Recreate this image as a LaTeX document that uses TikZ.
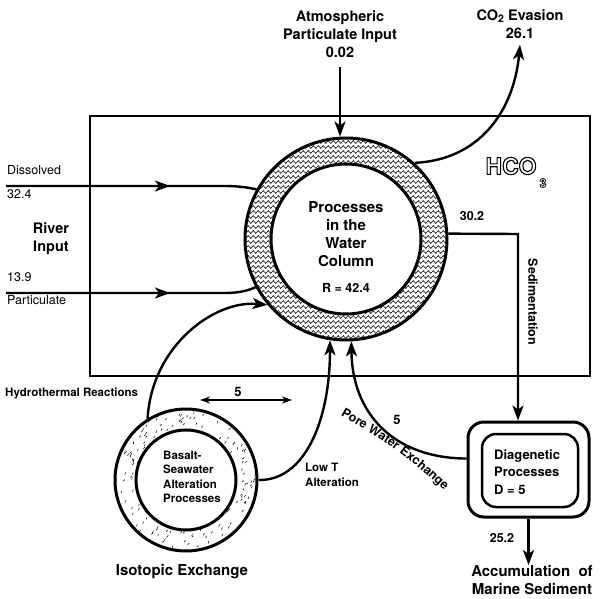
\documentclass[tikz,border=0pt]{standalone}
\usepackage{fontspec}
\setmainfont{TeX Gyre Heros}
\usetikzlibrary{arrows.meta,decorations.pathmorphing,decorations.markings,decorations.text}
% outlined (hollow) glyphs through the PDF text render mode
\newcommand\hollowglyphs[2][1.1]{\special{pdf:literal direct q 1 Tr #1 w}#2\special{pdf:literal direct 0 Tr Q}}

\begin{document}
\begin{tikzpicture}[x=1pt,y=-1pt,
  flow/.style={line width=2.4pt},
  bigtip/.style={-{Stealth[length=15pt,width=11pt,inset=4pt]}},
  midtip/.style={postaction={decorate},
    decoration={markings,mark=at position #1 with {\arrow{Stealth[length=15pt,width=11pt,inset=4pt]}}}},
  bigtxt/.style={font=\bfseries\fontsize{15}{18}\selectfont,align=center,inner sep=0pt},
  midtxt/.style={font=\bfseries\fontsize{12.5}{14.5}\selectfont,align=left,inner sep=0pt},
  smalltxt/.style={font=\fontsize{12.5}{14}\selectfont,inner sep=0pt},
  hco/.style={font=\bfseries\fontsize{23}{25}\selectfont,inner sep=0pt},
  hcosub/.style={font=\bfseries\fontsize{12.5}{14}\selectfont,inner sep=0pt},
  ring/.style={circle,draw,line width=3pt,inner sep=0pt},
]
\useasboundingbox (0,0) rectangle (603,599);

% ocean box
\node[draw,line width=2.4pt,minimum width=500pt,minimum height=260pt,inner sep=0pt] (ocean) at (340,246) {};

% wavy fill of the water-column ring
\begin{scope}
  \clip (346,239) circle (101);
  \foreach \yy in {137,142,...,342}
    \draw[line width=0.55pt,decorate,decoration={zigzag,segment length=5pt,amplitude=1.4pt}] (242,\yy) -- (452,\yy);
\end{scope}
\node[ring,minimum size=202pt] (wc) at (346,239) {};
\node[ring,fill=white,minimum size=150pt] (wcin) at (346,239) {};
\node[bigtxt] (wctext) at (346,234) {Processes\\in the\\Water\\Column};
\node[font=\bfseries\fontsize{12.5}{14}\selectfont,inner sep=0pt] (rval) at (346,288) {R = 42.4};

% speckled fill of the basalt ring
\begin{scope}
  \clip (186,480) circle (70);
  \pgfmathsetseed{11}
  \foreach \k in {1,...,135}{
    \pgfmathsetmacro\ang{360*rnd}
    \pgfmathsetmacro\rad{52+18*rnd}
    \pgfmathsetmacro\tilt{35+50*rnd}
    \draw[line width=0.5pt] ({186+\rad*cos(\ang)},{480+\rad*sin(\ang)}) -- ++({2.4*cos(\tilt)},{-2.4*sin(\tilt)});
  }
\end{scope}
\node[ring,minimum size=142pt] (bas) at (186,480) {};
\node[ring,minimum size=100pt] (basin) at (186,480) {};
\node[font=\bfseries\fontsize{11.5}{14.5}\selectfont,align=left,inner sep=0pt,anchor=west] (bastext) at (163,477) {Basalt-\\Seawater\\Alteration\\Processes};
\node[bigtxt] (iso) at (182,572) {Isotopic Exchange};

% diagenetic box
\node[draw,rounded corners=16pt,line width=3pt,minimum width=121pt,minimum height=95pt,inner sep=0pt] (diag) at (528.5,469.5) {};
\node[draw,rounded corners=14pt,line width=2.5pt,minimum width=96pt,minimum height=73pt,inner sep=0pt] (diagin) at (530,470.5) {};
\node[font=\bfseries\fontsize{13}{17.5}\selectfont,align=left,inner sep=0pt,anchor=west] (diagtext) at (494,472) {Diagenetic\\Processes\\D = 5};

% labels
\node[bigtxt,font=\bfseries\fontsize{14.5}{18}\selectfont] (atm) at (340,34) {Atmospheric\\Particulate Input\\0.02};
\node[bigtxt,font=\bfseries\fontsize{14.5}{18}\selectfont] (co2) at (520,24) {CO\raisebox{-2.5pt}{\fontsize{10.5}{11}\selectfont 2} Evasion\\26.1};
\node[bigtxt,font=\bfseries\fontsize{14.5}{18}\selectfont] (river) at (51,239) {River\\Input};
\node[smalltxt,anchor=west] (dis) at (7,170) {Dissolved};
\node[smalltxt,anchor=west] (disval) at (7,194) {32.4};
\node[smalltxt,anchor=west] (partval) at (7,277) {13.9};
\node[smalltxt,anchor=west] (part) at (7,300) {Particulate};
\node[midtxt,font=\bfseries\fontsize{11.5}{13}\selectfont,anchor=west] (hydro) at (5,393) {Hydrothermal Reactions};
\node[midtxt,font=\bfseries\fontsize{11.5}{15}\selectfont,anchor=west] (lowt) at (305,475) {Low T\\Alteration};
\node[midtxt] (sedval) at (472,216) {30.2};
\node[midtxt,rotate=-90] (sed) at (533,302) {Sedimentation};
\node[midtxt] (accval) at (502,538) {25.2};
\node[midtxt,font=\bfseries\fontsize{13}{15}\selectfont] (poreval) at (397,420) {5};
\node[midtxt,font=\bfseries\fontsize{13}{15}\selectfont] (isoval) at (238,392) {5};
\node[bigtxt,anchor=north] (acc) at (532,565) {Accumulation\ \ of\\Marine Sediment};

% label set along a gently bending baseline
\coordinate (porefrom) at (333,411);
\coordinate (poreto) at (450,497);
\path[decorate,decoration={text along path,text align=center,
  text={|\bfseries\fontsize{12.5}{15}\selectfont|Pore Water Exchange}}]
  (porefrom) .. controls (372,433) and (415,460) .. (poreto);

% hollow HCO3 lettering
\node[hco] (hcotext) at (511,166) {\hollowglyphs{HCO}};
\node[hcosub] (hcosubtext) at (543,183) {\hollowglyphs[0.7]{3}};

% fluxes
\coordinate (atmtail) at (340,67);
\draw[flow,bigtip] (atmtail) -- (atmtail |- wc.north);
\draw[flow,bigtip] (wc.48) .. controls (480,160) and (514,110) .. ([yshift=-6pt]co2.south);

\coordinate (disstart) at (6,186);
\coordinate (partstart) at (6,293);
\draw[flow,midtip=164pt] (disstart) -- (225,186) .. controls (240,186) and (250,188) .. (wc.151);
\draw[flow,midtip=164pt] (partstart) -- (225,293) .. controls (240,293) and (250,290) .. (wc.208);

\draw[flow,bigtip] (bas.122) .. controls (152,345) and (215,300) .. (wc.220);
\draw[flow,bigtip] (bas.0) .. controls (305,481) and (330,420) .. (wc.261);
\draw[flow,bigtip] (diag.170) .. controls (390,458) and (352,410) .. (wc.273);

\coordinate (sedcorner) at (518,234);
\draw[flow,bigtip] (wc.3) -- (sedcorner) -- (sedcorner |- diag.north);
\draw[flow,bigtip] (diag.south) -- (diag.south |- acc.north);

\coordinate (isoleft) at (200,400);
\coordinate (isoright) at (292,400);
\draw[line width=1.2pt,{Stealth[length=10pt,width=7pt,inset=3pt]}-{Stealth[length=10pt,width=7pt,inset=3pt]}] (isoleft) -- (isoright);
\end{tikzpicture}
\end{document}
